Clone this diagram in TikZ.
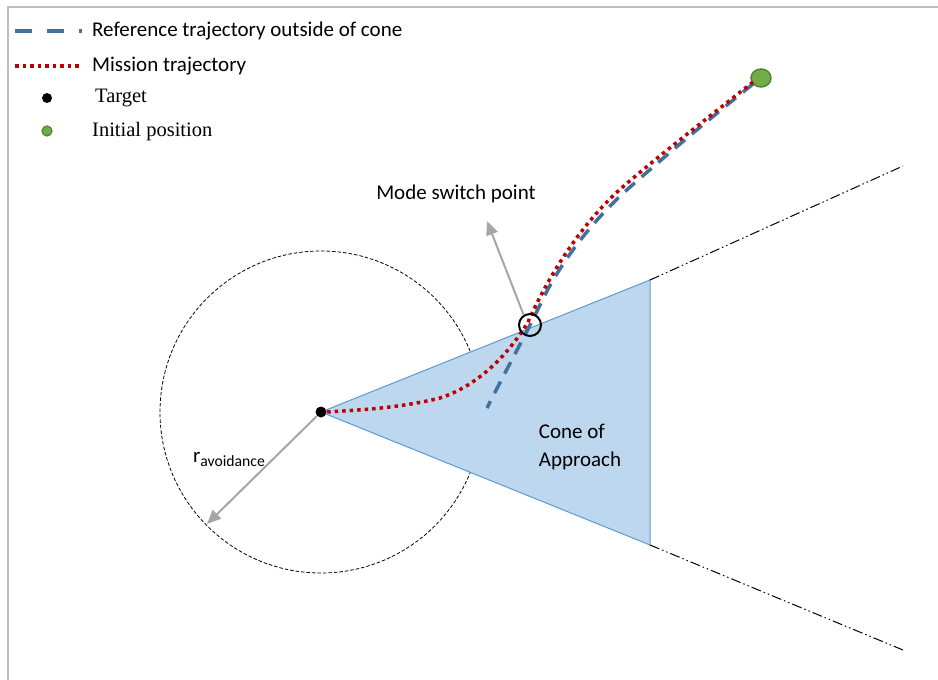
\documentclass[tikz,border=0pt]{standalone}
\usepackage{fontspec}
\setmainfont{Carlito}
\newfontfamily\tnr{Liberation Serif}
\usetikzlibrary{arrows.meta,shapes.geometric}
\definecolor{conefill}{HTML}{BDD7EE}
\definecolor{coneedge}{HTML}{5B9BD5}
\definecolor{refblue}{HTML}{41719C}
\definecolor{misred}{HTML}{C00000}
\definecolor{arrgray}{HTML}{A6A6A6}
\definecolor{initgreen}{HTML}{70AD47}
\definecolor{initedge}{HTML}{548235}
\definecolor{framegray}{HTML}{BFBFBF}
\tikzset{
  lbl/.style={font=\fontsize{21}{25}\selectfont, inner sep=0pt},
  tlbl/.style={font=\tnr\fontsize{20.5}{24}\selectfont, inner sep=0pt, anchor=west},
  reftraj/.style={draw=refblue, line width=3.5pt, dash pattern=on 13pt off 9pt},
  reflegend/.style={draw=refblue, line width=3.5pt, dash pattern=on 17pt off 15pt},
  mistraj/.style={draw=misred, line width=3.5pt, dash pattern=on 3.5pt off 4pt},
  grayarrow/.style={draw=arrgray, line width=2pt, -{Triangle[length=14pt,width=12pt]}},
  dashdotdot/.style={draw=black, line width=1pt, dash pattern=on 10pt off 3pt on 1.5pt off 3pt on 1.5pt off 3pt},
  dot/.style={circle, fill=black, inner sep=0pt, minimum size=11pt},
  gdot/.style={circle, fill=initgreen, draw=initedge, line width=1.2pt, inner sep=0pt, minimum size=10pt}
}
\begin{document}
\begin{tikzpicture}[x=1pt, y=-1pt]
\useasboundingbox (0,0) rectangle (938,680);
% frame
\draw[framegray, line width=2pt] (8,680) -- (8,7) -- (938,7);

% coordinates
\coordinate (T) at (321,412);
\coordinate (CT) at (650,280);
\coordinate (CB) at (650,545);
\coordinate (ET) at (903,166);
\coordinate (EB) at (903,650);

% avoidance circle
\draw[black, line width=0.8pt, dash pattern=on 3.5pt off 2pt] (T) circle (161);

% cone
\fill[conefill] (T) -- (CT) -- (CB) -- cycle;
\draw[coneedge, line width=1pt] (T) -- (CT) -- (CB) -- cycle;
\draw[dashdotdot] (CT) -- (ET);
\draw[dashdotdot] (CB) -- (EB);

\node[lbl, align=left] (cone) at (580,447) {Cone of\\[3pt]Approach};

% target and initial position
\node[dot] (target) at (T) {};
\node[ellipse, fill=initgreen, draw=initedge, line width=1.5pt, minimum width=20pt, minimum height=18pt, inner sep=0pt] (init) at (761,78) {};

% reference trajectory
\coordinate (refend) at (487,408);
\draw[reftraj] (753,84) .. controls (702,125) and (664,157) .. (629,188)
  .. controls (594,219) and (560,262) .. (540,305)
  .. controls (525,336) and (505,372) .. (refend);

% mission trajectory
\draw[mistraj] (753,82) .. controls (700,124) and (660,155) .. (625,185)
  .. controls (590,215) and (555,262) .. (528,322)
  .. controls (510,352) and (480,385) .. (440,398)
  .. controls (400,408) and (360,410) .. (target.east);

% mode switch
\node[circle, draw=black, line width=2pt, minimum size=22pt, inner sep=0pt] (switch) at (530,325) {};
\coordinate (swtip) at (487,221);
\draw[grayarrow] (switch.north west) ++(2,-2) -- (swtip);
\node[lbl] (swlbl) at (456,194) {Mode switch point};

% r avoidance
\coordinate (rtip) at (207,524);
\draw[grayarrow] (target) -- (rtip);
\node[lbl] (rlbl) at (229,459) {r\fontsize{15.7}{18}\selectfont\raisebox{-4pt}{avoidance}};

% legend
\coordinate (l1a) at (15,31); \coordinate (l1b) at (82,31);
\draw[reflegend] (l1a) -- (l1b);
\node[lbl, anchor=west] (leg1) at (92,31) {Reference trajectory outside of cone};
\coordinate (l2a) at (15,66); \coordinate (l2b) at (82,66);
\draw[mistraj] (l2a) -- (l2b);
\node[lbl, anchor=west] (leg2) at (92,66) {Mission trajectory};
\node[dot, minimum size=10pt] (leg3dot) at (47,98) {};
\node[tlbl] (leg3) at (95,98) {Target};
\node[gdot] (leg4dot) at (47,131) {};
\node[tlbl] (leg4) at (92,132) {Initial position};
\end{tikzpicture}
\end{document}
